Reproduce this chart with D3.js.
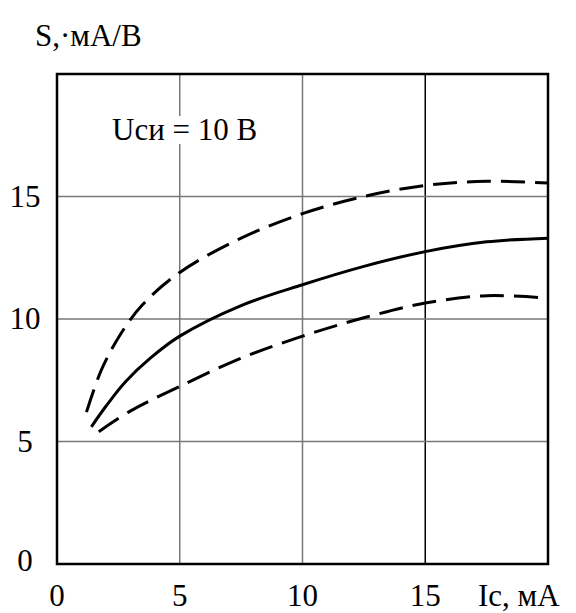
<!DOCTYPE html>
<html><head><meta charset="utf-8">
<script src="https://cdn.jsdelivr.net/npm/d3@7"></script>
<style>
html,body{margin:0;padding:0;background:#fff;}
</style></head>
<body><svg id="c" width="576" height="613"></svg>
<script>
const xTicks = [0, 5, 10, 15];
const yTicks = [0, 5, 10, 15];
const xTickLabels = ["0", "5", "10", "15"];
const yTickLabels = ["0", "5", "10", "15"];
const xTitle = "Ic, мА";
const yTitle = "S,·мА/В";
const note = "Uси = 10 В";

const upperX = [1.2, 1.8, 2.6, 3.5, 5.0, 7.5, 10.0, 12.5, 15.0, 17.5, 20.0];
const upperY = [6.2, 7.9, 9.4, 10.6, 11.9, 13.3, 14.3, 15.0, 15.45, 15.62, 15.55];
const midX = [1.4, 2.0, 2.8, 3.8, 5.0, 7.5, 10.0, 12.5, 15.0, 17.5, 20.0];
const midY = [5.6, 6.45, 7.45, 8.4, 9.3, 10.55, 11.4, 12.15, 12.75, 13.15, 13.3];
const lowX = [1.7, 3.0, 5.0, 7.5, 10.0, 12.5, 15.0, 17.5, 19.6];
const lowY = [5.4, 6.25, 7.25, 8.4, 9.3, 10.05, 10.65, 10.95, 10.88];

const svg = d3.select("#c");
const L = 57, R = 548, T = 74, B = 564;
const x = d3.scaleLinear().domain([0, 20]).range([L, R]);
const y = d3.scaleLinear().domain([0, 20]).range([B, T]);

function txt(s, px, py, anchor, size) {
  return svg.append("text")
    .attr("x", px).attr("y", py)
    .attr("text-anchor", anchor || "start")
    .style("font-family", '"Liberation Serif"')
    .style("font-size", (size || 31) + "px").attr("fill", "#000")
    .text(s);
}

// grid
svg.selectAll(".vg").data([5, 10, 15]).enter().append("line")
  .attr("x1", d => x(d)).attr("x2", d => x(d)).attr("y1", T).attr("y2", B)
  .attr("stroke", d => d === 15 ? "#000" : "#777").attr("stroke-width", 1.5);
svg.selectAll(".hg").data([5, 10, 15]).enter().append("line")
  .attr("x1", L).attr("x2", R).attr("y1", d => y(d)).attr("y2", d => y(d))
  .attr("stroke", "#777").attr("stroke-width", 1.5);

// note with white background
svg.append("rect").attr("x", 110).attr("y", 116).attr("width", 158).attr("height", 28).attr("fill", "#fff");
txt(note, 112, 140, "start", 31);

// frame
svg.append("rect").attr("x", L).attr("y", T).attr("width", R - L).attr("height", B - T)
  .attr("fill", "none").attr("stroke", "#000").attr("stroke-width", 2.5);

const line = d3.line().x(d => x(d[0])).y(d => y(d[1])).curve(d3.curveCatmullRom.alpha(0.5));
function draw(xs, ys, dashed) {
  svg.append("path").datum(xs.map((v, i) => [v, ys[i]]))
    .attr("d", line).attr("fill", "none").attr("stroke", "#000").attr("stroke-width", 3)
    .attr("stroke-dasharray", dashed ? "24,10" : null);
}
draw(upperX, upperY, true);
draw(midX, midY, false);
draw(lowX, lowY, true);

// y ticks
yTicks.forEach((d, i) => txt(yTickLabels[i], 25, d === 0 ? y(d) + 7 : y(d) + 10, "middle"));
// x ticks
xTicks.forEach((d, i) => txt(xTickLabels[i], x(d), 606, "middle"));
txt(xTitle, 478, 606, "start");
txt(yTitle, 35, 46, "start");
</script></body></html>
